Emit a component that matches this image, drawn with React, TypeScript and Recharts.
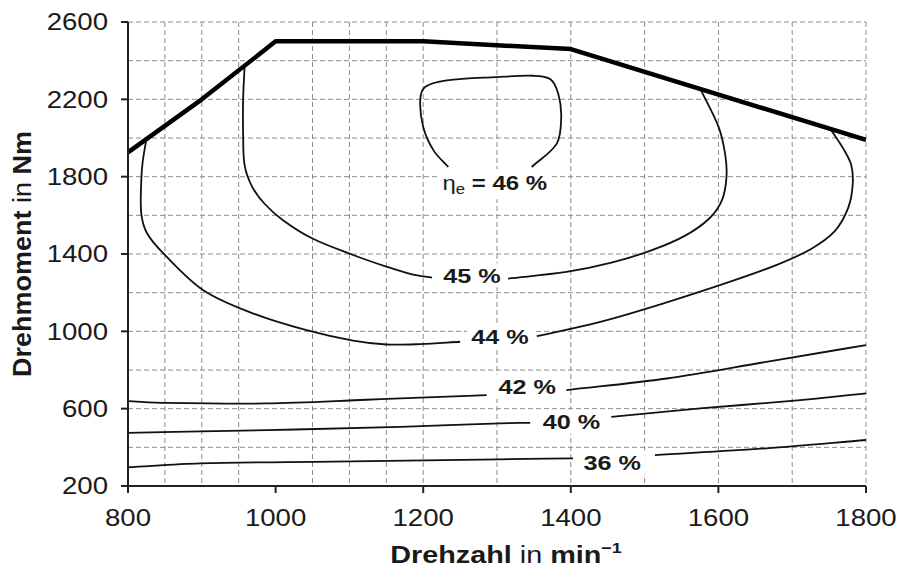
import { ComposedChart, Line, Scatter, XAxis, YAxis, CartesianGrid } from "recharts";

// speed axis (min^-1) and torque axis (Nm)
const rpmTicks = [800, 1000, 1200, 1400, 1600, 1800];
const torqueTicks = [200, 600, 1000, 1400, 1800, 2200, 2600];
const rpmGrid = [850, 900, 950, 1000, 1050, 1100, 1150, 1200, 1250, 1300, 1350, 1400, 1450, 1500, 1550, 1600, 1650, 1700, 1750, 1800];
const torqueGrid = [300, 400, 500, 600, 700, 800, 900, 1000, 1100, 1200, 1300, 1400, 1500, 1600, 1700, 1800, 1900, 2000, 2100, 2200, 2300, 2400, 2500, 2600];

// full-load torque curve
const fullLoadRpm = [800, 900, 1000, 1200, 1400, 1800];
const fullLoadTorque = [1926, 2200, 2500, 2500, 2460, 1990];

// efficiency contours [rpm, torque], split where the label sits
const eta46: [number, number][] = [
  [1234, 1850], [1214, 1936], [1200, 2057], [1196, 2200], [1203, 2265], [1232, 2298],
  [1299, 2315], [1349, 2322], [1372, 2305], [1383, 2229], [1387, 2108], [1381, 1971], [1347, 1850],
];
const eta45a: [number, number][] = [
  [958, 2372], [956, 2200], [956, 2020], [958, 1860], [968, 1750], [985, 1660],
  [1010, 1575], [1050, 1480], [1105, 1395], [1150, 1335], [1185, 1295], [1212, 1278],
];
const eta45b: [number, number][] = [
  [1315, 1273], [1394, 1307], [1455, 1355], [1510, 1420], [1555, 1495], [1588, 1585],
  [1605, 1680], [1611, 1800], [1609, 1920], [1600, 2060], [1576, 2250],
];
const eta44a: [number, number][] = [
  [825, 1995], [820, 1880], [818, 1781], [818, 1609], [826, 1506], [848, 1403], [902, 1213],
  [970, 1092], [1042, 1006], [1105, 952], [1150, 932], [1196, 934], [1250, 946],
];
const eta44b: [number, number][] = [
  [1354, 975], [1440, 1049], [1530, 1150], [1620, 1262], [1680, 1345], [1725, 1425],
  [1758, 1520], [1776, 1640], [1782, 1760], [1780, 1860], [1770, 1940], [1752, 2045],
];
const eta42a: [number, number][] = [[800, 639], [852, 630], [988, 627], [1123, 646], [1214, 660], [1286, 670]];
const eta42b: [number, number][] = [[1394, 696], [1530, 756], [1665, 842], [1800, 929]];
const eta40a: [number, number][] = [[800, 475], [988, 489], [1169, 506], [1304, 524], [1345, 527]];
const eta40b: [number, number][] = [[1455, 558], [1575, 601], [1711, 644], [1800, 679]];
const eta36a: [number, number][] = [[800, 297], [898, 317], [1078, 326], [1304, 338], [1403, 343]];
const eta36b: [number, number][] = [[1514, 360], [1665, 395], [1800, 438]];

// contour labels
const labelRpm = [1297, 1266, 1304, 1341, 1401, 1456];
const labelTorque = [1766, 1290, 972, 713, 532, 322];
const labelText = ["46 %", "45 %", "44 %", "42 %", "40 %", "36 %"];

const FONT = "'Liberation Sans', Arial, sans-serif";
const INK = "#1a1a1a";

const toPoints = (pts: [number, number][]) => pts.map(([x, y]) => ({ x, y }));
const fullLoad = fullLoadRpm.map((x, i) => ({ x, y: fullLoadTorque[i] }));
const labels = labelRpm.map((x, i) => ({ x, y: labelTorque[i], text: labelText[i], main: i === 0 }));

const contours = [eta46, eta45a, eta45b, eta44a, eta44b, eta42a, eta42b, eta40a, eta40b, eta36a, eta36b];

// chord-length weighted cubic spline; copes with contours that turn back on themselves
function smoothCurve(context: any) {
  let pts: number[][] = [];
  const dist = (a: number[], b: number[]) => Math.hypot(b[0] - a[0], b[1] - a[1]);
  return {
    areaStart() {},
    areaEnd() {},
    lineStart() {
      pts = [];
    },
    point(x: number, y: number) {
      pts.push([+x, +y]);
    },
    lineEnd() {
      const n = pts.length;
      if (!n) return;
      context.moveTo(pts[0][0], pts[0][1]);
      const tangent = (i: number) => {
        const prev = pts[Math.max(i - 1, 0)];
        const next = pts[Math.min(i + 1, n - 1)];
        const len = dist(prev, pts[i]) + dist(pts[i], next) || 1;
        return [(next[0] - prev[0]) / len, (next[1] - prev[1]) / len];
      };
      for (let i = 0; i < n - 1; i++) {
        const p1 = pts[i];
        const p2 = pts[i + 1];
        const h = dist(p1, p2) / 3;
        const t1 = tangent(i);
        const t2 = tangent(i + 1);
        context.bezierCurveTo(p1[0] + t1[0] * h, p1[1] + t1[1] * h, p2[0] - t2[0] * h, p2[1] - t2[1] * h, p2[0], p2[1]);
      }
    },
  };
}

function XTick({ x, y, payload }: any) {
  return (
    <g transform={`translate(${x},${y})`}>
      <text transform="scale(1.2,1)" textAnchor="middle" dy="0.71em" fontSize={23} fontFamily={FONT} fill={INK}>
        {payload.value}
      </text>
    </g>
  );
}

function YTick({ x, y, payload }: any) {
  return (
    <g transform={`translate(${x},${y})`}>
      <text transform="scale(1.2,1)" textAnchor="end" dy="0.355em" fontSize={23} fontFamily={FONT} fill={INK}>
        {payload.value}
      </text>
    </g>
  );
}

function ContourLabel({ cx, cy, payload }: any) {
  if (cx == null || cy == null) return null;
  if (payload.main) {
    return (
      <g transform={`translate(${cx},${cy})`}>
        <rect x={-56} y={-14} width={112} height={30} fill="#fff" />
        <text transform="scale(1.2,1)" textAnchor="middle" y={7} fontSize={20} fontFamily={FONT} fill={INK} style={{ whiteSpace: "pre" }}>
          <tspan>η</tspan>
          <tspan fontSize={14} dy={4}>e</tspan>
          <tspan dy={-4} fontWeight="bold">{" = " + payload.text}</tspan>
        </text>
      </g>
    );
  }
  return (
    <g transform={`translate(${cx},${cy})`}>
      <rect x={-33} y={-12} width={66} height={24} fill="#fff" />
      <text transform="scale(1.2,1)" textAnchor="middle" y={7.5} fontSize={21} fontWeight="bold" fontFamily={FONT} fill={INK} style={{ whiteSpace: "pre" }}>
        {payload.text}
      </text>
    </g>
  );
}

function XTitle({ viewBox }: any) {
  const vb = viewBox || { x: 128, y: 486, width: 738, height: 82 };
  const cx = vb.x + vb.width / 2 + 9;
  const cy = vb.y + 77;
  return (
    <text transform={`translate(${cx},${cy}) scale(1.2,1)`} textAnchor="middle" fontSize={24} fontFamily={FONT} fill={INK} style={{ whiteSpace: "pre" }}>
      <tspan fontWeight="bold">Drehzahl</tspan>
      <tspan>{" in "}</tspan>
      <tspan fontWeight="bold">min</tspan>
      <tspan fontWeight="bold" fontSize={15} dy={-10}>−1</tspan>
    </text>
  );
}

function YTitle({ viewBox }: any) {
  const vb = viewBox || { x: 0, y: 22, width: 128, height: 464 };
  const cx = 31;
  const cy = vb.y + vb.height / 2;
  return (
    <text transform={`translate(${cx},${cy}) rotate(-90) scale(1.08,1)`} textAnchor="middle" fontSize={25} fontFamily={FONT} fill={INK} style={{ whiteSpace: "pre" }}>
      <tspan fontWeight="bold">Drehmoment</tspan>
      <tspan>{" in "}</tspan>
      <tspan fontWeight="bold">Nm</tspan>
    </text>
  );
}

export default function App() {
  return (
    <div style={{ position: "absolute", left: 0, top: 0, width: 898, height: 568, background: "#fff" }}>
      <ComposedChart width={898} height={568} margin={{ top: 22, right: 32, bottom: 0, left: 0 }}>
        <CartesianGrid
          stroke="#8c8c8c"
          strokeDasharray="5 3"
          verticalValues={rpmGrid}
          horizontalValues={torqueGrid}
        />
        <XAxis
          type="number"
          dataKey="x"
          domain={[800, 1800]}
          ticks={rpmTicks}
          allowDataOverflow
          height={82}
          tickSize={7}
          tickMargin={17}
          axisLine={{ stroke: "#222", strokeWidth: 2 }}
          tickLine={{ stroke: "#222", strokeWidth: 2 }}
          tick={<XTick />}
          label={<XTitle />}
        />
        <YAxis
          type="number"
          dataKey="y"
          domain={[200, 2600]}
          ticks={torqueTicks}
          allowDataOverflow
          width={128}
          tickSize={7}
          tickMargin={13}
          axisLine={{ stroke: "#222", strokeWidth: 2 }}
          tickLine={{ stroke: "#222", strokeWidth: 2 }}
          tick={<YTick />}
          label={<YTitle />}
        />
        {contours.map((seg, i) => (
          <Line
            key={i}
            data={toPoints(seg)}
            dataKey="y"
            type={smoothCurve as any}
            stroke="#111"
            strokeWidth={1.8}
            dot={false}
            activeDot={false}
            isAnimationActive={false}
          />
        ))}
        <Line
          data={fullLoad}
          dataKey="y"
          type="linear"
          stroke="#000"
          strokeWidth={4.5}
          strokeLinejoin="round"
          dot={false}
          activeDot={false}
          isAnimationActive={false}
        />
        <Scatter data={labels} dataKey="y" shape={<ContourLabel />} isAnimationActive={false} />
      </ComposedChart>
    </div>
  );
}
